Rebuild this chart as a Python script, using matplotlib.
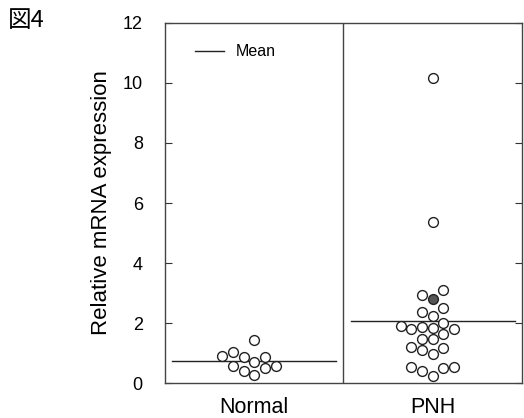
#!/usr/bin/env python3
"""図4: Relative mRNA expression, Normal vs PNH (dot plot with mean)."""

import matplotlib
matplotlib.use("Agg")
import matplotlib.pyplot as plt
from matplotlib.lines import Line2D
import numpy as np

plt.rcParams["font.family"] = ["Liberation Sans", "DejaVu Sans"]

groups = ["Normal", "PNH"]
normal_vals = [0.27, 0.40, 0.49, 0.57, 0.58, 0.69, 0.86, 0.86, 0.90, 1.03, 1.43]
pnh_vals = [0.23, 0.41, 0.49, 0.52, 0.52, 0.97, 1.10, 1.16, 1.19, 1.46, 1.46,
            1.63, 1.79, 1.80, 1.84, 1.88, 1.90, 1.99, 2.23, 2.38, 2.49, 2.79,
            2.93, 3.10, 5.38, 10.18]
pnh_dark = [2.79]   # the one dark-filled PNH point
y_ticks = [0, 2, 4, 6, 8, 10, 12]


def swarm_offsets(vals, gap=0.35, step=0.06):
    """Simple column beeswarm: try centre, then -1, +1, -2, +2 ..."""
    order = np.argsort(vals, kind="stable")
    cols = {}
    offs = np.zeros(len(vals))
    for i in order:
        v = vals[i]
        k = 0
        while True:
            c = (k + 1) // 2 * (-1 if k % 2 else 1)
            if all(abs(v - w) >= gap for w in cols.get(c, [])):
                cols.setdefault(c, []).append(v)
                offs[i] = c * step
                break
            k += 1
    return offs


fig = plt.figure(figsize=(5.24, 4.18), dpi=100)
ax = fig.add_axes([0.315, 0.0837, 0.681, 0.8613])

for pos, vals in enumerate([normal_vals, pnh_vals], start=1):
    vals = np.asarray(vals)
    x = pos + swarm_offsets(vals)
    dark = np.isin(vals, pnh_dark) if pos == 2 else np.zeros(len(vals), bool)
    ax.scatter(x[~dark], vals[~dark], s=50, facecolor="white",
               edgecolor="#222222", linewidth=1.0, zorder=3)
    if dark.any():
        ax.scatter(x[dark], vals[dark], s=50, facecolor="#555555",
                   edgecolor="#222222", linewidth=1.0, zorder=4)
    m = vals.mean()
    ax.plot([pos - 0.46, pos + 0.46], [m, m], color="#222222", lw=1.0, zorder=2)

ax.axvline(1.5, color="#444444", lw=1.0)

ax.set_xlim(0.5, 2.5)
ax.set_ylim(0, 12)
ax.set_yticks(y_ticks)
ax.set_xticks([1, 2])
ax.set_xticklabels(groups, fontsize=15.5)
ax.tick_params(axis="x", length=0, pad=10)
ax.tick_params(axis="y", direction="in", length=5, right=True,
               labelsize=13, pad=16, color="#333333")
for s in ax.spines.values():
    s.set_color("#444444")
    s.set_linewidth(1.0)

ax.set_ylabel("Relative mRNA expression", fontsize=16, labelpad=8)

leg = ax.legend(handles=[Line2D([], [], color="#222222", lw=1.0)], labels=["Mean"],
                loc="center left", bbox_to_anchor=(0.085, 0.92), frameon=False,
                fontsize=11.5, handlelength=1.8, handletextpad=0.7,
                borderpad=0, borderaxespad=0)

fig.text(0.015, 0.95, "図4", fontsize=17,
         family=["Noto Sans CJK JP", "DejaVu Sans"], va="center", ha="left")

fig.savefig("out.png", dpi=100)
plt.close(fig)
